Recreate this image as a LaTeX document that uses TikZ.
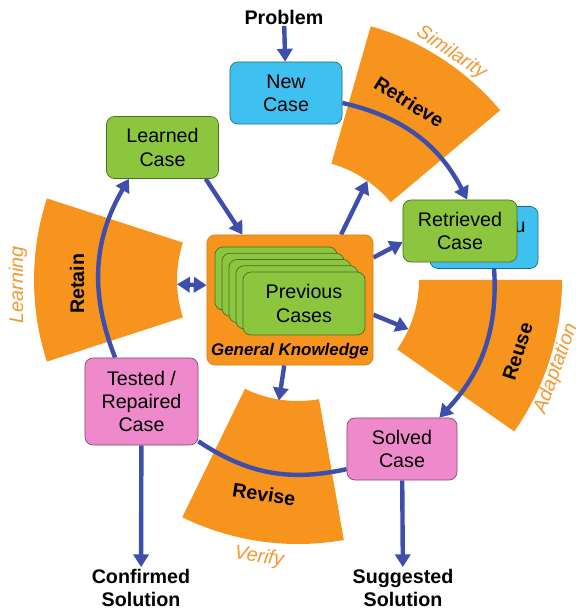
\documentclass[tikz,border=0pt]{standalone}
\usepackage{fontspec}
\setmainfont{Liberation Sans}
\usepackage{tikz}
\definecolor{Ring}{RGB}{247,148,30}
\definecolor{Arw}{RGB}{62,78,172}
\definecolor{Cblue}{RGB}{62,193,240}
\definecolor{Cgreen}{RGB}{140,198,63}
\definecolor{Cpink}{RGB}{238,138,204}
\definecolor{Rtext}{RGB}{242,152,50}
\usetikzlibrary{arrows.meta}
\pgfdeclarelayer{back}
\pgfdeclarelayer{mid}
\pgfsetlayers{back,mid,main}
\newcommand{\ringpart}[2]{\fill[Ring] (#1:121) arc[start angle=#1, end angle=#2, radius=121]
    -- (#2:264) arc[start angle=#2, end angle=#1, radius=264] -- cycle;}
\tikzset{
  casebox/.style={draw=#1!55!black, fill=#1, line width=0.5pt, rounded corners=0.2cm,
                  minimum width=2.8cm, minimum height=1.55cm, align=center,
                  font=\fontsize{14}{16.5}\selectfont},
  phase/.style={font=\fontsize{14}{16}\selectfont\bfseries},
  ringtxt/.style={text=Rtext, font=\fontsize{14}{16}\selectfont\itshape},
  outtxt/.style={align=center, inner sep=1pt, font=\fontsize{14}{17}\selectfont\bfseries},
  flow/.style={draw=Arw, line width=0.11cm, >={Triangle[length=0.32cm,width=0.38cm]}, ->}
}

\begin{document}
\begin{tikzpicture}[x=0.025cm, y=0.025cm]
    \useasboundingbox (-298,-331) rectangle (278,280);

    % the four phases
    \begin{pgfonlayer}{back}
        \ringpart{40}{74}
        \ringpart{-35}{0}
        \ringpart{-116}{-80}
        \ringpart{162}{198}
    \end{pgfonlayer}
    \node [phase, rotate=-32] (retrievetxt) at (58:210) {Retrieve};
    \node [phase, rotate=72]  (reusetxt)    at (-18:231) {Reuse};
    \node [phase, rotate=-9]  (revisetxt)   at (-99:217) {Revise};
    \node [phase, rotate=90]  (retaintxt)   at (181:221) {Retain};
    \node [ringtxt, rotate=-34] (similarity) at (56:274) {Similarity};
    \node [ringtxt, rotate=70]  (adaptation) at (-19:273) {Adaptation};
    \node [ringtxt, rotate=-8]  (verify)     at (-98:280) {Verify};
    \node [ringtxt, rotate=90]  (learning)   at (181:280) {Learning};
    \coordinate (retrin)   at (55:121);
    \coordinate (reusein)  at (-24:121);
    \coordinate (revisein) at (-99:122);
    \coordinate (retainin) at (182:121);

    % cases
    \node [outtxt] (problem) at (-14,263) {Problem};
    \node [casebox=Cblue]  (newcase) at (-12,187) {New\\Case};
    \node [casebox=Cgreen] (learned) at (-135.5,132.5) {Learned\\Case};
    \node [casebox=Cblue, minimum width=2.7cm] (hidden) at (186,42.5) {};
    \node [font=\fontsize{14}{16.5}\selectfont] (hiddenu) at (222,53) {u};
    \node [casebox=Cgreen, minimum width=2.85cm] (retrieved) at (162,49) {Retrieved\\Case};
    \node [casebox=Cpink, minimum width=2.825cm, minimum height=2.175cm] (tested)
          at (-156.5,-121.5) {Tested /\\Repaired\\Case};
    \node [casebox=Cpink, minimum width=2.75cm] (solved) at (104,-169) {Solved\\Case};
    \node [outtxt] (confirmed) at (-157,-308) {Confirmed\\Solution};
    \node [outtxt] (suggested) at (105,-308) {Suggested\\Solution};

    % general knowledge with stacked cases
    \node [casebox=Ring, minimum width=4.15cm, minimum height=3.25cm, draw=Ring!85!black] (gk) at (-8,-20) {};
    \foreach \k in {4,3,2,1}
        \node [casebox=Cgreen, minimum width=3.05cm, minimum height=1.575cm] (card\k)
              at ({6-7*\k},{-23.5+6.25*\k}) {};
    \node [casebox=Cgreen, minimum width=3.05cm, minimum height=1.575cm] (card0)
          at (6,-23.5) {Previous\\Cases};
    \node [font=\fontsize{12}{14}\selectfont\bfseries\itshape] (gklabel) at (-8,-71) {General Knowledge};

    \begin{pgfonlayer}{mid}
        \draw [flow] (problem) -- (newcase);
        \draw [flow] (newcase.-10) to[bend left=25] (retrieved.77);
        \draw [flow] (retrieved.-43) to[bend left=24] (solved.40);
        \draw [flow, -] (solved.200) to[bend left=23] (tested.-35);
        \draw [flow] (tested.121) to[bend left=26] (learned.223);
        \draw [flow] (learned.-36) -- (gk.126);
        \draw [flow] (gk.52) -- (retrin);
        \draw [flow] (gk.27) -- (retrieved.191);
        \draw [flow] (gk.-10) -- (reusein);
        \draw [flow] (gk.-95) -- (revisein);
        \draw [flow, <->] (retainin) -- (gk.170);
        \draw [flow] (tested) -- (confirmed);
        \draw [flow] (solved) -- (suggested);
    \end{pgfonlayer}
\end{tikzpicture}
\end{document}
